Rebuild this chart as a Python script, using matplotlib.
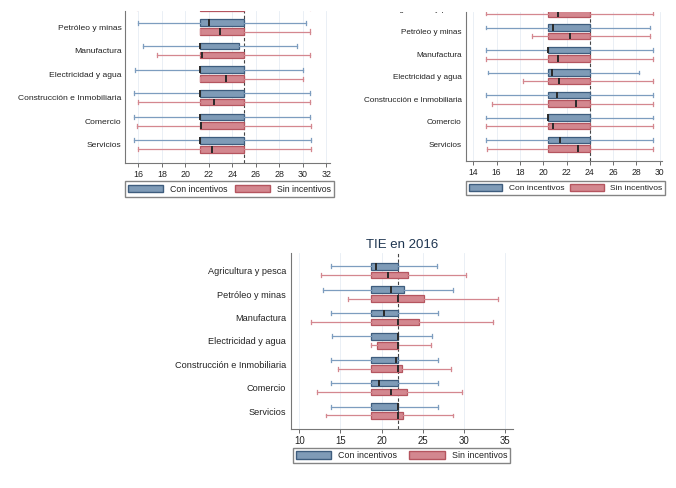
import matplotlib
matplotlib.use('Agg')
import matplotlib.pyplot as plt
from matplotlib.patches import Patch
from matplotlib.transforms import Bbox, TransformedBbox, blended_transform_factory

plt.rcParams['font.family'] = ['Liberation Sans', 'DejaVu Sans']

sectores = ['Agricultura y pesca', 'Petróleo y minas', 'Manufactura', 'Electricidad y agua',
            'Construcción e Inmobiliaria', 'Comercio', 'Servicios']
grupos = ['Con incentivos', 'Sin incentivos']

# [min, q1, mediana, q3, max] por sector
a_con = [[15.7, 21.24, 22.0, 25.0, 30.6],
         [15.95, 21.24, 22.03, 25.0, 30.25],
         [16.37, 21.24, 21.24, 24.55, 29.46],
         [15.72, 21.24, 21.24, 25.0, 29.97],
         [15.66, 21.24, 21.24, 25.0, 30.6],
         [15.66, 21.24, 21.24, 25.0, 30.6],
         [15.66, 21.24, 21.24, 25.0, 30.67]]
a_sin = [[15.9, 21.24, 23.0, 25.0, 30.6],
         [21.24, 21.24, 22.94, 25.0, 30.6],
         [17.56, 21.24, 21.4, 25.0, 30.6],
         [21.24, 21.24, 23.45, 25.0, 29.97],
         [16.0, 21.24, 22.46, 25.0, 30.6],
         [15.86, 21.24, 21.3, 25.0, 30.67],
         [15.95, 21.24, 22.3, 25.0, 30.67]]

b_con = [[15.06, 20.45, 21.0, 24.0, 29.4],
         [15.06, 20.45, 20.88, 24.0, 29.2],
         [15.06, 20.45, 20.45, 24.0, 29.4],
         [15.23, 20.45, 20.74, 24.0, 28.2],
         [15.06, 20.45, 21.17, 24.0, 29.4],
         [15.06, 20.45, 20.45, 24.0, 29.4],
         [15.06, 20.45, 21.45, 24.0, 29.4]]
b_sin = [[15.06, 20.45, 21.31, 24.0, 29.4],
         [19.08, 20.45, 22.3, 24.0, 29.2],
         [15.06, 20.45, 21.23, 24.0, 29.4],
         [18.24, 20.45, 21.37, 24.0, 29.4],
         [15.58, 20.45, 22.83, 24.0, 29.4],
         [15.06, 20.45, 20.88, 24.0, 29.4],
         [15.2, 20.45, 22.95, 24.0, 29.4]]

c_con = [[13.81, 18.7, 19.32, 22.0, 26.69],
         [12.84, 18.7, 21.18, 22.72, 28.72],
         [13.81, 18.7, 20.29, 22.0, 26.9],
         [13.93, 18.7, 22.0, 22.0, 26.17],
         [13.81, 18.7, 21.75, 22.0, 26.9],
         [13.81, 18.7, 19.73, 22.0, 26.9],
         [13.81, 18.7, 22.0, 22.0, 26.9]]
c_sin = [[12.59, 18.7, 20.74, 23.25, 30.22],
         [15.96, 18.7, 22.0, 25.19, 34.1],
         [11.42, 18.7, 22.0, 24.55, 33.58],
         [18.7, 19.4, 22.0, 22.0, 25.96],
         [14.74, 18.7, 22.0, 22.52, 28.4],
         [12.1, 18.7, 21.18, 23.05, 29.8],
         [13.2, 18.7, 22.0, 22.64, 28.64]]

W, H = 676, 488
fig = plt.figure(figsize=(W / 100, H / 100), dpi=100)

azul_caja, azul_borde, azul_linea = '#7f9bb7', '#3e5d7e', '#7d9dbf'
rojo_caja, rojo_borde, rojo_linea = '#d3878f', '#b5555f', '#d4878f'


def ejes(left, top, right, bottom):
    return fig.add_axes([left / W, 1 - bottom / H, (right - left) / W, (bottom - top) / H])


def panel(ax, con, sin, xlim, ylim, ticks, ref, fs, pad):
    for datos, off, caja, borde, linea in [(con, -0.19, azul_caja, azul_borde, azul_linea),
                                           (sin, 0.19, rojo_caja, rojo_borde, rojo_linea)]:
        stats = [dict(whislo=d[0], q1=d[1], med=d[2], q3=d[3], whishi=d[4], fliers=[])
                 for d in datos]
        ax.bxp(stats, positions=[i + off for i in range(len(datos))], widths=0.28,
               orientation='horizontal', patch_artist=True, showfliers=False,
               capwidths=0.17, manage_ticks=False,
               boxprops=dict(facecolor=caja, edgecolor=borde, linewidth=0.9),
               whiskerprops=dict(color=linea, linewidth=0.9),
               capprops=dict(color=linea, linewidth=0.9),
               medianprops=dict(color='#2a2a2a', linewidth=1.4))
    ax.axvline(ref, color='#444444', linestyle=(0, (3, 2)), linewidth=0.8, zorder=1)
    ax.set_xticks(ticks)
    ax.set_yticks(range(len(sectores)))
    ax.set_yticklabels(sectores)
    ax.set_xlim(*xlim)
    ax.set_ylim(*ylim)
    ax.tick_params(axis='y', length=0, pad=pad, labelsize=fs, colors='#222222')
    ax.tick_params(axis='x', length=3, width=0.6, labelsize=fs + 0.3, colors='#555555',
                   labelcolor='#222222', pad=2)
    ax.grid(axis='x', color='#e6edf4', linewidth=0.6)
    ax.set_axisbelow(True)
    for s in ['top', 'right']:
        ax.spines[s].set_visible(False)
    for s in ['left', 'bottom']:
        ax.spines[s].set_color('#777777')
        ax.spines[s].set_linewidth(0.8)


def leyenda(cx, cy, fs, cs):
    handles = [Patch(facecolor=azul_caja, edgecolor=azul_borde, label=grupos[0]),
               Patch(facecolor=rojo_caja, edgecolor=rojo_borde, label=grupos[1])]
    fig.legend(handles=handles, ncol=2, loc='center',
               bbox_to_anchor=(cx / W, 1 - cy / H),
               bbox_transform=fig.transFigure, fontsize=fs, handlelength=4.0,
               handleheight=1.0, frameon=True, fancybox=False, edgecolor='#666666',
               borderpad=0.35, columnspacing=cs, handletextpad=0.8,
               labelcolor='#222222')


ax1 = ejes(125, 11, 330, 163)
panel(ax1, a_con, a_sin, (14.87, 32.3), (6.77, 0.32), range(16, 33, 2), 25, 6.1, 2.4)
leyenda(229.5, 189, 6.3, 0.9)

ax2 = ejes(466, 12, 662, 161)
panel(ax2, b_con, b_sin, (13.37, 30.2), (6.74, 0.12), range(14, 31, 2), 24, 5.9, 3.0)
leyenda(565.5, 188, 6.0, 0.75)
# etiqueta del primer sector, cortada por el borde superior
t = ax2.text(-3.0 / 196, 0, sectores[0], fontsize=5.9, color='#222222', ha='right',
             va='center', transform=blended_transform_factory(ax2.transAxes, ax2.transData))
t.set_clip_box(TransformedBbox(Bbox([[0, 0], [1, 1 - 11.5 / H]]), fig.transFigure))
t.set_clip_on(True)

ax3 = ejes(290.7, 252.7, 513.3, 429.3)
panel(ax3, c_con, c_sin, (8.95, 36.0), (6.78, -0.77), range(10, 36, 5), 22, 6.6, 3.4)
leyenda(401.5, 455.5, 6.4, 1.3)
fig.text(401.7 / W, 1 - 245 / H, 'TIE en 2016', ha='center', va='center',
         fontsize=9.5, color='#1e3550')

fig.savefig('out.png', dpi=100)
